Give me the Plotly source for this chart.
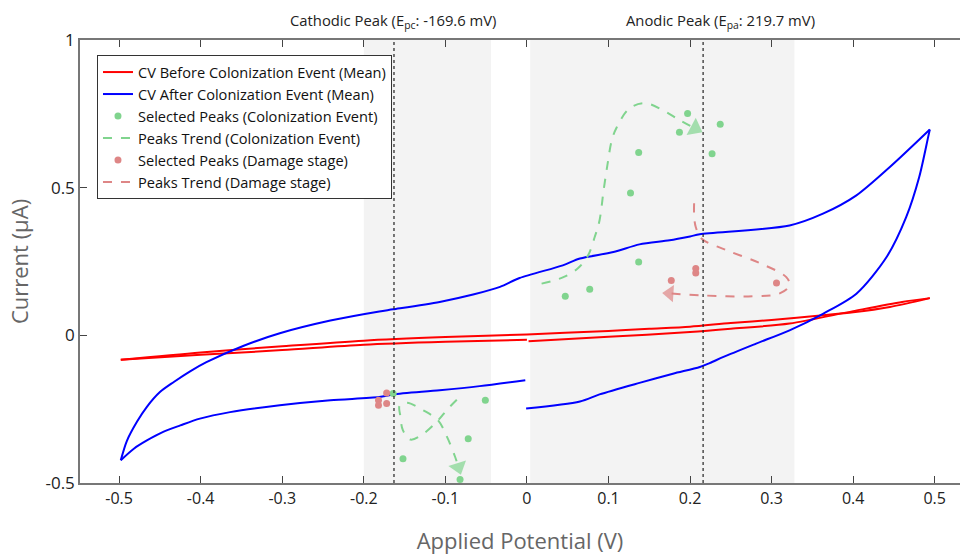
import plotly.graph_objects as go

# ---------------- data ----------------
# CV before colonization (mean) - forward and reverse branches
red_fwd_x = [-0.498, -0.4, -0.3, -0.2, -0.1, 0.0, 0.1, 0.15, 0.2, 0.25, 0.3, 0.363, 0.4, 0.445, 0.494]
red_fwd_y = [-0.083, -0.058, -0.037, -0.018, -0.006, 0.003, 0.015, 0.022, 0.029, 0.042, 0.052, 0.068, 0.078, 0.096, 0.126]
red_rev_x = [0.494, 0.46, 0.4, 0.322, 0.25, 0.2, 0.1, 0.002, None, 0.0, -0.1, -0.2, -0.3, -0.4, -0.498]
red_rev_y = [0.126, 0.113, 0.082, 0.04, 0.022, 0.011, -0.005, -0.02, None, -0.015, -0.022, -0.032, -0.05, -0.066, -0.083]

# CV after colonization (mean)
blue_fwd_x = [-0.498, -0.4906, -0.478, -0.466, -0.45, -0.433, -0.413, -0.393, -0.348, -0.303, -0.241,
              -0.181, -0.164, -0.107, -0.066, -0.033, -0.009, 0.044, 0.065, 0.106, 0.138, 0.175, 0.2,
              0.212, 0.322, 0.363, 0.404, 0.445, 0.494]
blue_fwd_y = [-0.423, -0.358, -0.292, -0.242, -0.192, -0.158, -0.122, -0.091, -0.036, 0.007, 0.05,
              0.081, 0.088, 0.113, 0.138, 0.164, 0.194, 0.237, 0.26, 0.282, 0.308, 0.322, 0.335,
              0.342, 0.372, 0.412, 0.474, 0.57, 0.697]
blue_rev_x = [0.494, 0.492, 0.481, 0.465, 0.441, 0.404, 0.363, 0.322, 0.281, 0.241, 0.224, 0.212,
              0.179, 0.138, 0.089, 0.065, -0.001, None, -0.002, -0.058, -0.107, -0.164, -0.181,
              -0.241, -0.303, -0.364, -0.401, -0.425, -0.446, -0.466, -0.482, -0.498]
blue_rev_y = [0.697, 0.672, 0.536, 0.4, 0.265, 0.141, 0.073, 0.017, -0.028, -0.073, -0.094, -0.107,
              -0.13, -0.161, -0.2, -0.224, -0.248, None, -0.152, -0.172, -0.186, -0.2, -0.209,
              -0.22, -0.237, -0.26, -0.282, -0.305, -0.327, -0.356, -0.384, -0.423]

# Selected peaks (colonization event)
green_pk_x = [-0.164, -0.152, -0.072, -0.051, -0.082,
              0.197, 0.187, 0.237, 0.137, 0.227, 0.127, 0.137, 0.077, 0.047]
green_pk_y = [-0.197, -0.418, -0.35, -0.22, -0.488,
              0.751, 0.688, 0.715, 0.619, 0.615, 0.482, 0.248, 0.156, 0.132]

# Selected peaks (damage stage)
red_pk_x = [-0.182, -0.182, -0.172, -0.172, 0.177, 0.207, 0.207, 0.306]
red_pk_y = [-0.22, -0.237, -0.231, -0.195, 0.186, 0.226, 0.211, 0.177]

# Peak trends (colonization event)
gtr_cat_x = [-0.086, -0.098, -0.109, -0.127, -0.143, -0.152, -0.155, -0.156, -0.147, -0.127,
             -0.109, -0.098, -0.088, -0.084]
gtr_cat_y = [-0.218, -0.252, -0.288, -0.333, -0.353, -0.322, -0.277, -0.237, -0.228, -0.254,
             -0.288, -0.344, -0.412, -0.446]
gtr_an_x = [0.018, 0.044, 0.0625, 0.075, 0.083, 0.089, 0.094, 0.099, 0.104, 0.110, 0.126, 0.145,
            0.167, 0.1875, 0.206]
gtr_an_y = [0.175, 0.196, 0.227, 0.271, 0.332, 0.389, 0.491, 0.582, 0.66, 0.704, 0.769, 0.786,
            0.762, 0.728, 0.701]

# Peak trend (damage stage)
rtr_an_x = [0.205, 0.205, 0.207, 0.214, 0.245, 0.286, 0.318, 0.322, 0.31, 0.277, 0.216, 0.175]
rtr_an_y = [0.447, 0.406, 0.367, 0.328, 0.288, 0.244, 0.197, 0.169, 0.142, 0.132, 0.135, 0.142]

# peak regions and peak potentials
cat_band = [-0.2, -0.044]
an_band = [0.004, 0.328]
cat_peak_line = -0.163
an_peak_line = 0.216

x_ticks = [-0.5, -0.4, -0.3, -0.2, -0.1, 0, 0.1, 0.2, 0.3, 0.4, 0.5]
x_tick_text = ["-0.5", "-0.4", "-0.3", "-0.2", "-0.1", "0", "0.1", "0.2", "0.3", "0.4", "0.5"]
y_ticks = [-0.5, 0, 0.5, 1]
y_tick_text = ["-0.5", "0", "0.5", "1"]

# ---------------- styles ----------------
RED = "#ff0000"
BLUE = "#0000ff"
GREEN = "#80d48e"
PINK = "#de8686"
FONT = "Open Sans"

fig = go.Figure()

sp = dict(width=2, shape="spline", smoothing=0.8)
fig.add_trace(go.Scatter(x=red_fwd_x, y=red_fwd_y, mode="lines", line=dict(color=RED, **sp),
                         name="CV Before Colonization Event (Mean)", legendgroup="red"))
fig.add_trace(go.Scatter(x=red_rev_x, y=red_rev_y, mode="lines", line=dict(color=RED, **sp),
                         showlegend=False, legendgroup="red", connectgaps=False))
fig.add_trace(go.Scatter(x=blue_fwd_x, y=blue_fwd_y, mode="lines", line=dict(color=BLUE, **sp),
                         name="CV After Colonization Event (Mean)", legendgroup="blue"))
fig.add_trace(go.Scatter(x=blue_rev_x, y=blue_rev_y, mode="lines", line=dict(color=BLUE, **sp),
                         showlegend=False, legendgroup="blue", connectgaps=False))

fig.add_trace(go.Scatter(x=green_pk_x, y=green_pk_y, mode="markers", marker=dict(color=GREEN, size=7),
                         name="Selected Peaks (Colonization Event)"))
fig.add_trace(go.Scatter(x=gtr_an_x, y=gtr_an_y, mode="lines", line=dict(color=GREEN, width=2, dash="dash", shape="spline"),
                         name="Peaks Trend (Colonization Event)", legendgroup="gtr"))
fig.add_trace(go.Scatter(x=gtr_cat_x, y=gtr_cat_y, mode="lines", line=dict(color=GREEN, width=2, dash="dash", shape="spline"),
                         showlegend=False, legendgroup="gtr"))
fig.add_trace(go.Scatter(x=red_pk_x, y=red_pk_y, mode="markers", marker=dict(color=PINK, size=7),
                         name="Selected Peaks (Damage stage)"))
fig.add_trace(go.Scatter(x=rtr_an_x, y=rtr_an_y, mode="lines", line=dict(color=PINK, width=2, dash="dash", shape="spline"),
                         name="Peaks Trend (Damage stage)"))

# filled arrow heads at trend ends (triangle oriented along the last segment)
def arrow(xs, ys, color, size):
    fig.add_trace(go.Scatter(x=xs[-2:], y=ys[-2:], mode="markers", showlegend=False, hoverinfo="skip",
                             marker=dict(symbol="triangle-up", angleref="previous", size=[0, size], color=color,
                                         line=dict(width=0))))

arrow(gtr_an_x, gtr_an_y, GREEN, 17)
arrow(gtr_cat_x, gtr_cat_y, GREEN, 16)
arrow(rtr_an_x, rtr_an_y, PINK, 15)

shapes = [
    dict(type="rect", xref="x", yref="paper", x0=cat_band[0], x1=cat_band[1], y0=0, y1=1,
         fillcolor="#f3f3f3", line=dict(width=0), layer="below"),
    dict(type="rect", xref="x", yref="paper", x0=an_band[0], x1=an_band[1], y0=0, y1=1,
         fillcolor="#f3f3f3", line=dict(width=0), layer="below"),
    dict(type="line", xref="x", yref="paper", x0=cat_peak_line, x1=cat_peak_line, y0=0, y1=1,
         line=dict(color="#222222", width=1.2, dash="dot")),
    dict(type="line", xref="x", yref="paper", x0=an_peak_line, x1=an_peak_line, y0=0, y1=1,
         line=dict(color="#222222", width=1.2, dash="dot")),
]

fig.add_annotation(x=-0.164, y=1, xref="x", yref="paper", yanchor="bottom", yshift=6, showarrow=False,
                   text="Cathodic Peak (E<sub>pc</sub>: -169.6 mV)", font=dict(family=FONT, size=14.8, color="#222"))
fig.add_annotation(x=0.237, y=1, xref="x", yref="paper", yanchor="bottom", yshift=6, showarrow=False,
                   text="Anodic Peak (E<sub>pa</sub>: 219.7 mV)", font=dict(family=FONT, size=14.8, color="#222"))

fig.update_layout(
    width=960, height=555,
    margin=dict(l=80, r=0, t=40, b=72),
    plot_bgcolor="white", paper_bgcolor="white",
    font=dict(family=FONT, color="#222"),
    shapes=shapes,
    showlegend=True,
    legend=dict(x=0.0193, y=0.966, xanchor="left", yanchor="top", bgcolor="white",
                bordercolor="#333", borderwidth=1, font=dict(family=FONT, size=14.6, color="#111"),
                tracegroupgap=0),
    xaxis=dict(range=[-0.548, 0.531], tickvals=x_ticks, ticktext=x_tick_text, ticks="inside", ticklen=7,
               tickcolor="#444", showline=True, linecolor="#777", linewidth=1.5, mirror="ticks",
               showgrid=False, zeroline=False, tickfont=dict(size=16, color="#222"),
               title=dict(text="Applied Potential (V)", font=dict(size=22, color="#666"), standoff=26)),
    yaxis=dict(range=[-0.5, 1], tickvals=y_ticks, ticktext=y_tick_text, ticks="inside", ticklen=7,
               tickcolor="#444", showline=True, linecolor="#777", linewidth=1.5,
               showgrid=False, zeroline=False, tickfont=dict(size=17, color="#222"),
               title=dict(text="Current (μA)", font=dict(size=22, color="#666"), standoff=11)),
)

fig.write_html("out.html")
